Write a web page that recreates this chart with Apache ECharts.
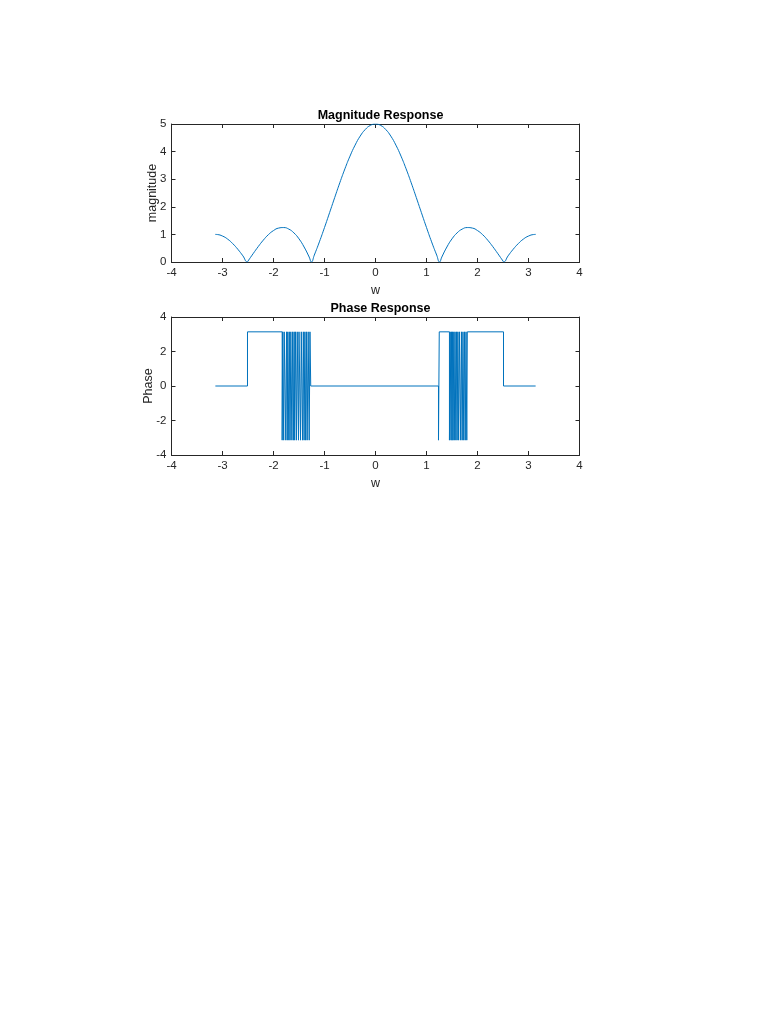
<!DOCTYPE html>
<html>
<head>
<meta charset="utf-8">
<script src="https://cdn.jsdelivr.net/npm/echarts@6/dist/echarts.min.js"></script>
<style>
    html, body { margin: 0; padding: 0; background: #fff; }
    #chart { width: 768px; height: 1024px; }
</style>
</head>
<body>
<div id="chart"></div>
<script>
// magnitude response
let magW = [-3.1416, -3.1, -3.0, -2.9, -2.8, -2.7, -2.6, -2.513, -2.5, -2.4, -2.3, -2.2, -2.1, -2.0, -1.9, -1.8, -1.7, -1.6, -1.5, -1.4, -1.3, -1.2566, -1.2, -1.1, -1.0, -0.9, -0.8, -0.7, -0.6, -0.5, -0.4, -0.3, -0.2, -0.1, 0,
    0.1, 0.2, 0.3, 0.4, 0.5, 0.6, 0.7, 0.8, 0.9, 1.0, 1.1, 1.2, 1.2566, 1.3, 1.4, 1.5, 1.6, 1.7, 1.8, 1.9, 2.0, 2.1, 2.2, 2.3, 2.4, 2.5, 2.513, 2.6, 2.7, 2.8, 2.9, 3.0, 3.1, 3.1416]
let magVal = [1.0, 0.995, 0.94, 0.83, 0.667, 0.462, 0.223, 0, 0.035, 0.30, 0.556, 0.792, 0.991, 1.139, 1.229, 1.248, 1.192, 1.055, 0.839, 0.544, 0.179, 0, 0.25, 0.73, 1.249, 1.789, 2.335, 2.87, 3.376, 3.836, 4.235, 4.562, 4.802, 4.95, 5.0,
    4.95, 4.802, 4.562, 4.235, 3.836, 3.376, 2.87, 2.335, 1.789, 1.249, 0.73, 0.25, 0, 0.179, 0.544, 0.839, 1.055, 1.192, 1.248, 1.229, 1.139, 0.991, 0.792, 0.556, 0.30, 0.035, 0, 0.223, 0.462, 0.667, 0.83, 0.94, 0.995, 1.0]

// phase response, [w, phase]
let phasePoints = [
    [-3.14, 0], [-2.51, 0], [-2.51, 3.14], [-1.83, 3.14],
    [-1.83, -3.14], [-1.82, -3.14], [-1.82, 3.14], [-1.80, 3.14], [-1.80, -3.14], [-1.79, -3.14], [-1.79, 3.14],
    [-1.76, 3.14], [-1.76, -3.14], [-1.745, -3.14], [-1.745, 3.14], [-1.73, 3.14], [-1.73, -3.14], [-1.72, -3.14], [-1.72, 3.14],
    [-1.70, 3.14], [-1.70, -3.14], [-1.69, -3.14], [-1.69, 3.14], [-1.675, 3.14], [-1.675, -3.14], [-1.66, -3.14], [-1.66, 3.14],
    [-1.64, 3.14], [-1.64, -3.14], [-1.625, -3.14], [-1.625, 3.14], [-1.61, 3.14], [-1.61, -3.14], [-1.595, -3.14], [-1.595, 3.14],
    [-1.585, 3.14], [-1.585, -3.14], [-1.57, -3.14], [-1.57, 3.14], [-1.55, 3.14], [-1.55, -3.14], [-1.535, -3.14], [-1.535, 3.14],
    [-1.51, 3.14], [-1.51, -3.14], [-1.50, -3.14], [-1.50, 3.14], [-1.47, 3.14], [-1.47, -3.14], [-1.455, -3.14], [-1.455, 3.14],
    [-1.43, 3.14], [-1.43, -3.14], [-1.415, -3.14], [-1.415, 3.14], [-1.40, 3.14], [-1.40, -3.14], [-1.385, -3.14], [-1.385, 3.14],
    [-1.37, 3.14], [-1.37, -3.14], [-1.355, -3.14], [-1.355, 3.14], [-1.34, 3.14], [-1.34, -3.14], [-1.32, -3.14], [-1.32, 3.14],
    [-1.30, 3.14], [-1.30, -3.14], [-1.285, -3.14], [-1.285, 3.14], [-1.27, 3.14], [-1.27, 0],
    [1.235, 0], [1.235, -3.14], [1.25, -3.14], [1.25, 3.14], [1.45, 3.14],
    [1.45, -3.14], [1.465, -3.14], [1.465, 3.14], [1.48, 3.14], [1.48, -3.14], [1.49, -3.14], [1.49, 3.14],
    [1.50, 3.14], [1.50, -3.14], [1.51, -3.14], [1.51, 3.14], [1.52, 3.14], [1.52, -3.14], [1.535, -3.14], [1.535, 3.14],
    [1.545, 3.14], [1.545, -3.14], [1.56, -3.14], [1.56, 3.14], [1.575, 3.14], [1.575, -3.14], [1.59, -3.14], [1.59, 3.14],
    [1.60, 3.14], [1.60, -3.14], [1.615, -3.14], [1.615, 3.14], [1.63, 3.14], [1.63, -3.14], [1.645, -3.14], [1.645, 3.14],
    [1.67, 3.14], [1.67, -3.14], [1.685, -3.14], [1.685, 3.14], [1.70, 3.14], [1.70, -3.14], [1.715, -3.14], [1.715, 3.14],
    [1.73, 3.14], [1.73, -3.14], [1.745, -3.14], [1.745, 3.14], [1.76, 3.14], [1.76, -3.14], [1.775, -3.14], [1.775, 3.14],
    [1.79, 3.14], [1.79, -3.14], [1.80, -3.14], [1.80, 3.14],
    [2.51, 3.14], [2.51, 0], [3.14, 0]
]

let titles = ['Magnitude Response', 'Phase Response']
let yNames = ['magnitude', 'Phase']

const axisColor = '#262626'
const lineColor = '#0072BD'
const font = 'Arial, "Liberation Sans", Helvetica, sans-serif'

// one MATLAB-like box: main axis + mirrored axis with ticks only
const xAxes = (grid, show) => ({
    type: 'value', gridIndex: grid, min: -4, max: 4, interval: 1,
    position: show ? 'bottom' : 'top',
    name: show ? 'w' : '', nameLocation: 'middle', nameGap: 22,
    nameTextStyle: { color: axisColor, fontFamily: font, fontSize: 12.5 },
    axisLine: { show: true, onZero: false, lineStyle: { color: axisColor, width: 1 } },
    axisTick: { show: true, inside: true, length: 4, lineStyle: { color: axisColor } },
    axisLabel: { show: show, color: axisColor, fontFamily: font, fontSize: 11.5, margin: 5 },
    splitLine: { show: false }
})

const yAxes = (grid, show, min, max, step, gap) => ({
    type: 'value', gridIndex: grid, min: min, max: max, interval: step,
    position: show ? 'left' : 'right',
    name: show ? yNames[grid] : '', nameLocation: 'middle', nameGap: gap,
    nameMoveOverlap: false,
    nameTextStyle: { color: axisColor, fontFamily: font, fontSize: 12.5 },
    axisLine: { show: true, onZero: false, lineStyle: { color: axisColor, width: 1 } },
    axisTick: { show: true, inside: true, length: 4, lineStyle: { color: axisColor } },
    axisLabel: { show: show, color: axisColor, fontFamily: font, fontSize: 11.5, margin: 5 },
    splitLine: { show: false }
})

onload = () => {
    let chartDom = document.getElementById('chart')
    let myChart = echarts.init(chartDom, null, { renderer: 'canvas' })
    let option

    let magData = []
    magW.forEach((w, i) => magData.push([w, magVal[i]]))

    option = {
        backgroundColor: '#fff',
        animation: false,
        title: [
            {
                text: titles[0], left: 375.5, top: 104, textAlign: 'center',
                textStyle: { color: '#000', fontFamily: font, fontSize: 12.5, fontWeight: 'bold' }
            },
            {
                text: titles[1], left: 375.5, top: 297, textAlign: 'center',
                textStyle: { color: '#000', fontFamily: font, fontSize: 12.5, fontWeight: 'bold' }
            }
        ],
        grid: [
            { left: 171.5, top: 124, width: 408, height: 138 },
            { left: 171.5, top: 317, width: 408, height: 138 }
        ],
        xAxis: [xAxes(0, true), xAxes(0, false), xAxes(1, true), xAxes(1, false)],
        yAxis: [
            yAxes(0, true, 0, 5, 1, 12),
            yAxes(0, false, 0, 5, 1, 12),
            yAxes(1, true, -4, 4, 2, 16),
            yAxes(1, false, -4, 4, 2, 16)
        ],
        series: [
            {
                type: 'line', xAxisIndex: 0, yAxisIndex: 0,
                data: magData, smooth: true, showSymbol: false,
                lineStyle: { color: lineColor, width: 1 }
            },
            {
                type: 'line', xAxisIndex: 2, yAxisIndex: 2,
                data: phasePoints, showSymbol: false,
                lineStyle: { color: lineColor, width: 1 }
            }
        ]
    }

    option && myChart.setOption(option)
}
</script>
</body>
</html>
